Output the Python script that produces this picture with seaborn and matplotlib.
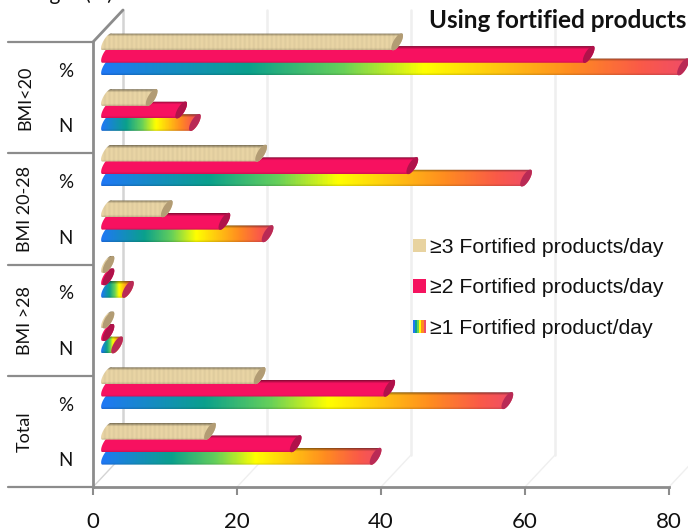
import numpy as np
import pandas as pd
import seaborn as sns
import matplotlib
matplotlib.use("Agg")
import matplotlib.pyplot as plt
from matplotlib.colors import LinearSegmentedColormap
from matplotlib.legend_handler import HandlerTuple
from matplotlib.patches import Patch, Polygon

rows = ["BMI<20 %", "BMI<20 N", "BMI 20-28 %", "BMI 20-28 N", "BMI >28 %", "BMI >28 N", "Total %", "Total N"]
row_labels = ["%", "N", "%", "N", "%", "N", "%", "N"]
groups = ["BMI<20", "BMI 20-28", "BMI >28", "Total"]
series = ["≥3 Fortified products/day", "≥2 Fortified products/day", "≥1 Fortified product/day"]
three_day = [40.3, 6.2, 21.4, 8.3, 0.2, 0.2, 21.2, 14.3]
two_day = [66.9, 10.3, 42.4, 16.3, 0.2, 0.2, 39.2, 26.2]
one_day = [80.0, 12.2, 58.2, 22.3, 2.9, 1.4, 55.6, 37.3]
xticks = [0, 20, 40, 60, 80]

sns.set_style("white")
plt.rcParams["font.family"] = ["Lato", "DejaVu Sans"]
plt.rcParams["text.color"] = "#111111"

df = pd.DataFrame({
    "row": rows * 3,
    "series": np.repeat(series, 8),
    "value": three_day + two_day + one_day,
})

# plot area in pixels, the 3d look is worked out from these
L, R, T, B = 93, 669, 42, 487
PX_X = (R - L) / 80
PX_Y = (B - T) / 8
GREY = "#8c8c8c"


def xd(px):
    return px / PX_X


def yd(px):
    return px / PX_Y


fig = plt.figure(figsize=(6.88, 5.32), dpi=100)
ax = fig.add_axes([L / 688, 1 - B / 532, (R - L) / 688, (B - T) / 532])
sns.barplot(data=df, x="value", y="row", hue="series", order=rows, hue_order=series,
            orient="h", width=0.673, legend=False, ax=ax)
ax.set_autoscale_on(False)
ax.set_xlim(0, 80)
ax.set_ylim(7.5, -0.5)
ax.set_xlabel("")
ax.set_ylabel("")

# back wall, gridlines and floor
back_x, back_y = xd(30), yd(32)
top_y = -0.5 - yd(32)
for t in xticks:
    col = "#d4d4d4" if t == 0 else "#efefef"
    ax.plot([t + back_x] * 2, [top_y, 7.5 - back_y], color=col, lw=1.8, clip_on=False, zorder=0)
    ax.plot([t, t + back_x], [7.5, 7.5 - back_y], color=col, lw=1.0, clip_on=False, zorder=0)
ax.plot([0, back_x], [-0.5, top_y], color=GREY, lw=2, clip_on=False, zorder=1)

rainbow = LinearSegmentedColormap.from_list("rainbow3d", [
    (0, "#1f78f5"), (0.25, "#0aa08c"), (0.41, "#66d05a"), (0.55, "#ffff00"),
    (0.8, "#ff8c20"), (0.92, "#fa5a48"), (1, "#f04c68")])
tan_col = np.array([0.92, 0.84, 0.65])
red_col = np.array([0.97, 0.07, 0.38])
cap_cols = ["#b29c74", "#b0124a", "#b92a55"]


def shade(n):
    pos = np.linspace(0, 1, n)
    return np.interp(pos, [0, 0.06, 0.18, 0.88, 1], [0.55, 0.72, 1, 1, 0.86])


def bar_image(kind, width_px):
    n = max(int(width_px), 6)
    pos = np.linspace(0, 1, n)
    sh = shade(24)[:, None, None]
    if kind == 0:
        img = np.tile(tan_col, (24, n, 1))
        # faint ribs along the tan bars
        ribs = 0.975 + 0.025 * np.sin(pos * width_px * 2 * np.pi / 4.5)
        img = img * ribs[None, :, None]
    elif kind == 1:
        img = np.tile(red_col, (24, n, 1))
    else:
        img = np.tile(rainbow(pos)[:, :3], (24, 1, 1))
    return np.clip(img * sh, 0, 1)


def ends(x_px, yb_px, h_px, slant, half_w, a, b):
    # points along a tilted ellipse, in pixels from the plot corner
    cx = x_px + slant / 2
    cy = yb_px - h_px / 2
    t = np.linspace(a, b, 30)
    ux, uy = slant / 2, -h_px / 2
    norm = np.hypot(ux, uy)
    nx, ny = -uy / norm * half_w, ux / norm * half_w
    return cx + np.cos(t) * ux + np.sin(t) * nx, cy + np.cos(t) * uy + np.sin(t) * ny


H, SLANT, LIFT, START, HALF = 16.7, 10, 13.3, 9, 3.6
for kind, cont in enumerate(ax.containers):
    z = 5 - kind
    for p in cont:
        p.set_visible(False)
        v = p.get_width()
        yb_px = (p.get_y() + p.get_height() + 0.5) * PX_Y - LIFT
        x0_px = START
        x1_px = START + v * PX_X
        # body has the rounded left end and the right end of the cylinder
        lx, ly = ends(x0_px, yb_px, H, SLANT, HALF, 0, -np.pi)
        rx, ry = ends(x1_px, yb_px, H, SLANT, HALF, np.pi, 0)
        xs = np.r_[lx, rx] / PX_X
        ys = np.r_[ly, ry] / PX_Y - 0.5
        body = Polygon(np.c_[xs, ys], closed=True, fc="none", ec="none", zorder=z, clip_on=False)
        ax.add_patch(body)
        im = ax.imshow(bar_image(kind, x1_px - x0_px + SLANT), aspect="auto", origin="upper",
                       extent=(xs.min(), xs.max(), yb_px / PX_Y - 0.5, (yb_px - H) / PX_Y - 0.5),
                       interpolation="bilinear", zorder=z)
        im.set_clip_box(fig.bbox)
        im.set_clip_path(body)
        cx, cy = ends(x1_px, yb_px, H, SLANT, HALF, 0, 2 * np.pi)
        ax.add_patch(Polygon(np.c_[cx / PX_X, cy / PX_Y - 0.5], closed=True, fc=cap_cols[kind],
                             ec="none", zorder=z + 0.1, clip_on=False))
ax.set_xlim(0, 80)
ax.set_ylim(7.5, -0.5)

# axes and the two level category labels
sns.despine(ax=ax, top=True, right=True)
for s in ["left", "bottom"]:
    ax.spines[s].set_color(GREY)
    ax.spines[s].set_linewidth(2)
ax.set_xticks(xticks)
ax.tick_params(axis="x", length=6, width=1.5, color=GREY, labelcolor="#111111", labelsize=16, pad=12, bottom=True)
ax.set_yticks(range(8))
ax.set_yticklabels(row_labels)
ax.tick_params(axis="y", length=0, labelcolor="#111111", labelsize=13.5, pad=20)
for lab in ax.get_yticklabels():
    lab.set_ha("center")
for i, g in enumerate(groups):
    ax.plot([-xd(85), 0], [2 * i - 0.5] * 2, color=GREY, lw=1.6, clip_on=False)
    ax.text(-xd(68), 2 * i + 0.5, g, rotation=90, ha="center", va="center", fontsize=13)
ax.plot([-xd(85), 0], [7.5, 7.5], color=GREY, lw=1.6, clip_on=False)

# text cut off by the top of the picture
fig.text(62 / 688, 1 + 6 / 532, "Weight (%)", ha="center", va="center", fontsize=15)
fig.text(686 / 688, 1 - 21 / 532, "Using fortified products", ha="right", va="center",
         fontsize=17.5, fontweight="bold", color="#111111")

stripes = ["#1f78f5", "#0aa08c", "#66d05a", "#ffff00", "#ff8c20", "#f04c68"]
handles = [Patch(fc="#e8d3a0", ec="none"), Patch(fc="#f5135f", ec="none"),
           tuple(Patch(fc=c, ec="none") for c in stripes)]
leg = ax.legend(handles, series, loc="upper left", bbox_to_anchor=(413 / 688, 1 - 238 / 532),
                bbox_transform=fig.transFigure, frameon=False, borderpad=0, borderaxespad=0,
                handlelength=0.6, handleheight=0.6, handletextpad=0.22, labelspacing=1.01,
                handler_map={tuple: HandlerTuple(ndivide=None, pad=0)},
                prop={"family": "Liberation Sans", "size": 15.3})
leg.set_zorder(10)

fig.savefig("out.png", dpi=100)
